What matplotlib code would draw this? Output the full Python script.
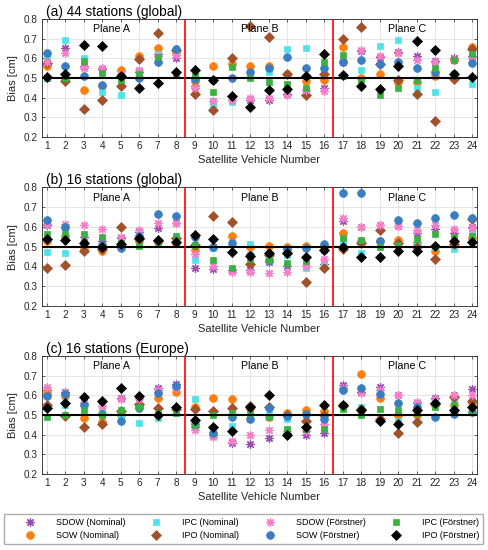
import matplotlib
matplotlib.use("Agg")
import matplotlib.pyplot as plt
import numpy as np

plt.rcParams["font.family"] = ["Liberation Sans", "DejaVu Sans"]

sats = np.arange(1, 25)

# (a) 44 stations (global)
a_sdow_nom = [0.57, 0.65, 0.56, 0.545, 0.51, 0.53, 0.62, 0.60, 0.46, 0.385, 0.39, 0.39,
              0.39, 0.42, 0.44, 0.45, 0.58, 0.635, 0.605, 0.63, 0.61, 0.585, 0.60, 0.61]
a_sow_nom = [0.56, 0.50, 0.44, 0.46, 0.54, 0.61, 0.65, 0.63, 0.485, 0.56, 0.57, 0.56,
             0.56, 0.52, 0.485, 0.49, 0.655, 0.50, 0.52, 0.48, 0.48, 0.51, 0.59, 0.655]
a_ipc_nom = [0.61, 0.695, 0.60, 0.43, 0.415, 0.51, 0.62, 0.62, 0.51, 0.36, 0.38, 0.52,
             0.53, 0.645, 0.65, 0.55, 0.51, 0.54, 0.665, 0.695, 0.45, 0.43, 0.52, 0.47]
a_ipo_nom = [0.575, 0.485, 0.34, 0.39, 0.46, 0.595, 0.73, 0.64, 0.42, 0.335, 0.60, 0.765,
             0.71, 0.52, 0.415, 0.52, 0.70, 0.76, 0.57, 0.49, 0.42, 0.28, 0.495, 0.645]
a_sdow_for = [0.58, 0.625, 0.55, 0.55, 0.52, 0.54, 0.61, 0.615, 0.45, 0.385, 0.39, 0.40,
              0.40, 0.415, 0.44, 0.435, 0.585, 0.64, 0.61, 0.625, 0.59, 0.58, 0.59, 0.60]
a_sow_for = [0.625, 0.56, 0.51, 0.465, 0.505, 0.50, 0.58, 0.645, 0.495, 0.49, 0.50, 0.53,
             0.55, 0.605, 0.55, 0.55, 0.58, 0.59, 0.57, 0.58, 0.55, 0.53, 0.52, 0.575]
a_ipc_for = [0.50, 0.50, 0.585, 0.525, 0.49, 0.52, 0.605, 0.52, 0.51, 0.43, 0.555, 0.50,
             0.48, 0.47, 0.45, 0.58, 0.615, 0.49, 0.415, 0.45, 0.49, 0.55, 0.59, 0.62]
a_ipo_for = [0.505, 0.52, 0.67, 0.665, 0.51, 0.45, 0.475, 0.53, 0.54, 0.49, 0.41, 0.35,
             0.44, 0.445, 0.51, 0.62, 0.515, 0.46, 0.445, 0.56, 0.69, 0.64, 0.52, 0.505]

# (b) 16 stations (global)
b_sdow_nom = [0.61, 0.60, 0.55, 0.53, 0.545, 0.575, 0.595, 0.62, 0.39, 0.385, 0.38, 0.38,
              0.42, 0.40, 0.40, 0.41, 0.63, 0.60, 0.61, 0.605, 0.57, 0.59, 0.57, 0.60]
b_sow_nom = [0.53, 0.555, 0.49, 0.48, 0.51, 0.53, 0.525, 0.52, 0.485, 0.50, 0.555, 0.50,
             0.505, 0.50, 0.505, 0.50, 0.57, 0.53, 0.53, 0.535, 0.52, 0.48, 0.51, 0.545]
b_ipc_nom = [0.475, 0.47, 0.51, 0.49, 0.51, 0.55, 0.52, 0.53, 0.43, 0.495, 0.525, 0.515,
             0.44, 0.46, 0.39, 0.42, 0.53, 0.47, 0.53, 0.52, 0.51, 0.50, 0.49, 0.575]
b_ipo_nom = [0.39, 0.405, 0.48, 0.49, 0.60, 0.54, 0.53, 0.545, 0.51, 0.655, 0.625, 0.41,
             0.46, 0.47, 0.32, 0.39, 0.49, 0.52, 0.585, 0.52, 0.50, 0.435, 0.515, 0.64]
b_sdow_for = [0.615, 0.615, 0.61, 0.59, 0.55, 0.585, 0.62, 0.62, 0.465, 0.40, 0.37, 0.37,
              0.365, 0.37, 0.40, 0.44, 0.645, 0.60, 0.61, 0.605, 0.585, 0.61, 0.59, 0.595]
b_sow_for = [0.635, 0.60, 0.52, 0.51, 0.495, 0.555, 0.665, 0.655, 0.55, 0.50, 0.52, 0.46,
             0.43, 0.49, 0.495, 0.515, 0.77, 0.77, 0.53, 0.635, 0.62, 0.645, 0.66, 0.645]
b_ipc_for = [0.565, 0.565, 0.565, 0.55, 0.52, 0.505, 0.525, 0.555, 0.51, 0.43, 0.39, 0.44,
             0.43, 0.415, 0.425, 0.485, 0.545, 0.535, 0.50, 0.51, 0.54, 0.565, 0.55, 0.555]
b_ipo_for = [0.54, 0.535, 0.52, 0.50, 0.515, 0.545, 0.535, 0.525, 0.56, 0.54, 0.475, 0.455,
             0.47, 0.47, 0.45, 0.485, 0.50, 0.45, 0.45, 0.48, 0.48, 0.505, 0.53, 0.525]

# (c) 16 stations (Europe)
c_sdow_nom = [0.63, 0.62, 0.56, 0.545, 0.585, 0.59, 0.64, 0.66, 0.44, 0.40, 0.36, 0.355,
              0.385, 0.41, 0.40, 0.41, 0.655, 0.62, 0.645, 0.60, 0.56, 0.585, 0.60, 0.635]
c_sow_nom = [0.61, 0.595, 0.485, 0.465, 0.50, 0.545, 0.585, 0.62, 0.54, 0.585, 0.58, 0.535,
             0.49, 0.51, 0.525, 0.52, 0.55, 0.71, 0.585, 0.50, 0.50, 0.55, 0.55, 0.56]
c_ipc_nom = [0.54, 0.55, 0.55, 0.52, 0.485, 0.46, 0.485, 0.52, 0.58, 0.43, 0.445, 0.48,
             0.50, 0.48, 0.49, 0.45, 0.54, 0.54, 0.49, 0.47, 0.55, 0.565, 0.565, 0.55]
c_ipo_nom = [0.55, 0.495, 0.44, 0.455, 0.52, 0.555, 0.535, 0.53, 0.53, 0.52, 0.535, 0.545,
             0.54, 0.50, 0.47, 0.50, 0.545, 0.53, 0.48, 0.41, 0.465, 0.555, 0.59, 0.57]
c_sdow_for = [0.645, 0.61, 0.56, 0.545, 0.58, 0.58, 0.63, 0.64, 0.425, 0.39, 0.37, 0.40,
              0.425, 0.42, 0.42, 0.455, 0.64, 0.61, 0.63, 0.60, 0.565, 0.58, 0.60, 0.60]
c_sow_for = [0.595, 0.605, 0.55, 0.505, 0.47, 0.535, 0.61, 0.65, 0.455, 0.41, 0.49, 0.48,
             0.535, 0.495, 0.505, 0.48, 0.63, 0.64, 0.605, 0.56, 0.54, 0.49, 0.505, 0.515]
c_ipc_for = [0.49, 0.50, 0.525, 0.50, 0.525, 0.54, 0.51, 0.51, 0.45, 0.50, 0.51, 0.51,
             0.49, 0.43, 0.43, 0.43, 0.53, 0.50, 0.53, 0.525, 0.51, 0.54, 0.55, 0.52]
c_ipo_for = [0.535, 0.56, 0.59, 0.57, 0.64, 0.595, 0.50, 0.54, 0.475, 0.44, 0.42, 0.54,
             0.60, 0.40, 0.44, 0.55, 0.55, 0.525, 0.47, 0.455, 0.525, 0.56, 0.525, 0.54]

series_labels = ["SDOW (Nominal)", "SOW (Nominal)", "IPC (Nominal)", "IPO (Nominal)",
                 "SDOW (Förstner)", "SOW (Förstner)", "IPC (Förstner)", "IPO (Förstner)"]
panel_titles = ["(a) 44 stations (global)", "(b) 16 stations (global)", "(c) 16 stations (Europe)"]
plane_labels = ["Plane A", "Plane B", "Plane C"]

panels = [
    [a_sdow_nom, a_sow_nom, a_ipc_nom, a_ipo_nom, a_sdow_for, a_sow_for, a_ipc_for, a_ipo_for],
    [b_sdow_nom, b_sow_nom, b_ipc_nom, b_ipo_nom, b_sdow_for, b_sow_for, b_ipc_for, b_ipo_for],
    [c_sdow_nom, c_sow_nom, c_ipc_nom, c_ipo_nom, c_sdow_for, c_sow_for, c_ipc_for, c_ipo_for],
]

star8 = (8, 2, 0)
styles = [
    dict(marker=star8, color="#9b4fb5", ms=6, mew=0.9),
    dict(marker="o", color="#ff7f0e", ms=5.6),
    dict(marker="s", color="#4de3e8", ms=4.3),
    dict(marker="D", color="#a0522d", ms=4.8),
    dict(marker=star8, color="#f77fc8", ms=6, mew=0.9),
    dict(marker="o", color="#3a7dc0", ms=5.6),
    dict(marker="s", color="#3cb043", ms=4.3),
    dict(marker="D", color="black", ms=4.8),
]

fig = plt.figure(figsize=(4.88, 5.5), dpi=100)
axes_rects = [
    [0.086, 0.751, 0.891, 0.2145],
    [0.086, 0.4436, 0.891, 0.216],
    [0.086, 0.138, 0.891, 0.2145],
]

handles = []
for p, rect in enumerate(axes_rects):
    ax = fig.add_axes(rect)
    for vals, st, lab in zip(panels[p], styles, series_labels):
        h, = ax.plot(sats, vals, linestyle="none", marker=st["marker"], ms=st["ms"],
                     color=st["color"], mfc=st["color"], mec=st["color"],
                     mew=st.get("mew", 0.5), label=lab, zorder=3)
        if p == 0:
            handles.append(h)
    ax.axhline(0.5, color="black", lw=1.5, zorder=4)
    for xv in (8.5, 16.5):
        ax.axvline(xv, color="red", lw=1.2, zorder=4)
    ax.set_xlim(0.75, 24.25)
    ax.set_ylim(0.2, 0.8)
    ax.set_xticks(sats)
    yt = np.arange(0.2, 0.81, 0.1)
    ax.set_yticks(yt)
    ax.set_yticklabels([f"{v:.1f}" for v in yt])
    ax.grid(True, color="#e0e0e0", lw=0.6)
    ax.set_axisbelow(True)
    ax.tick_params(direction="in", length=2.5, width=0.5, labelsize=7.2, colors="#262626",
                   pad=3, top=True, right=True)
    for sp in ax.spines.values():
        sp.set_color("#262626")
        sp.set_linewidth(0.6)
    ax.set_xlabel("Satellite Vehicle Number", fontsize=8, color="#262626", labelpad=3)
    ax.set_ylabel("Bias [cm]", fontsize=8, color="#262626", labelpad=4)
    ax.set_title(panel_titles[p], loc="left", fontsize=9.8, pad=2.5, x=0.01)
    for xc, txt in zip((4.5, 12.5, 20.5), plane_labels):
        ax.text(xc, 0.748, txt, ha="center", va="center", fontsize=7.7, zorder=5)

fig.legend(handles, series_labels, loc="center", ncol=4, mode="expand",
           bbox_to_anchor=(0.008, 0.009, 0.982, 0.058), fontsize=6.5,
           handletextpad=0.35, handlelength=5.0, columnspacing=0.3,
           borderaxespad=0, frameon=True, fancybox=False, edgecolor="#999999",
           labelspacing=0.45, borderpad=0.4)

fig.savefig("out.png", dpi=100)
